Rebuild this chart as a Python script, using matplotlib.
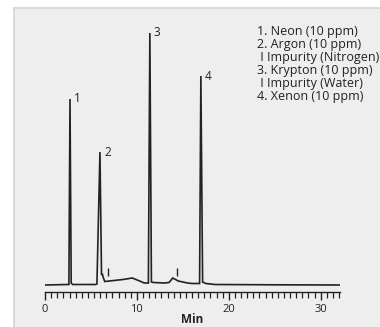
import matplotlib
matplotlib.use("Agg")
import matplotlib.pyplot as plt
from matplotlib.patches import Rectangle
from matplotlib.ticker import MultipleLocator

# chromatogram trace (time in min, signal in arbitrary units)
trace_time = [0.0, 2.5, 2.6, 2.72, 2.85, 3.0, 5.5, 5.65, 5.98, 6.15, 6.25, 6.32, 6.5,
              7.5, 8.5, 9.5, 10.3, 10.8, 11.25, 11.41, 11.58, 11.8, 13.0, 13.5,
              13.9, 14.5, 15.5, 16.0, 16.82, 16.96, 17.15, 17.5, 18.5, 25.0, 32.1]
trace_signal = [0.0, 0.5, 0.5, 186, 2, 0.5, 0.5, 1, 133, 10, 11, 8, 3.5,
                4.5, 5.5, 7, 4, 2, 2, 252, 3, 2.5, 2, 2.5,
                7, 4, 2, 1.5, 1.5, 209, 3, 1.5, 0.5, 0.2, 0.0]

peak_labels = ["1", "2", "3", "4"]
peak_times = [2.72, 5.98, 11.41, 16.96]
peak_heights = [186, 133, 252, 209]

impurity_times = [6.85, 14.35]

xtick_values = [0, 10, 20, 30]

legend_lines = ["1. Neon (10 ppm)", "2. Argon (10 ppm)", " I Impurity (Nitrogen)",
                "3. Krypton (10 ppm)", " I Impurity (Water)", "4. Xenon (10 ppm)"]

W, H = 380, 327
fig = plt.figure(figsize=(W / 100, H / 100), dpi=100, facecolor="white")

# gray panel with white strip top/left
fig.patches.append(Rectangle((14 / W, 0), 1, 1 - 8 / H, transform=fig.transFigure,
                             facecolor="#eeeeee", edgecolor="none", zorder=-5))
fig.add_artist(plt.Line2D([14 / W, 1], [1 - 8 / H, 1 - 8 / H], transform=fig.transFigure,
                          color="#d4d4d4", lw=1.2, zorder=-4))
fig.add_artist(plt.Line2D([14 / W, 14 / W], [0, 1 - 8 / H], transform=fig.transFigure,
                          color="#d4d4d4", lw=1.2, zorder=-4))

left, right = 45, 340
bottom, top = 292, 25
ax = fig.add_axes([left / W, 1 - bottom / H, (right - left) / W, (bottom - top) / H])
ax.set_facecolor("none")
ax.set_zorder(2)

ink = "#222222"
fam = "Open Sans"
ax.plot(trace_time, trace_signal, color=ink, lw=1.2, solid_joinstyle="miter")

for lab, t, h in zip(peak_labels, peak_times, peak_heights):
    ax.text(t + 0.45, h, lab, fontsize=8.5, color=ink, va="center", ha="left",
            family=fam)

ax.vlines(impurity_times, 9, 17, color=ink, lw=1.0)

ax.set_xlim(0, 32.1)
ax.set_ylim(-7, 260)
for s in ["top", "right", "left"]:
    ax.spines[s].set_visible(False)
ax.spines["bottom"].set_color(ink)
ax.spines["bottom"].set_linewidth(1.0)
ax.set_yticks([])
ax.set_xticks(xtick_values)
ax.xaxis.set_minor_locator(MultipleLocator(10 / 15))
ax.tick_params(axis="x", which="major", length=6, width=1.0, color=ink,
               labelsize=8, labelcolor=ink, pad=2.5)
ax.tick_params(axis="x", which="minor", length=4.5, width=0.9, color=ink)
for lbl in ax.get_xticklabels():
    lbl.set_family(fam)

ax.set_xlabel("Min", fontsize=8.5, color=ink, family=fam, fontweight="bold")
ax.xaxis.set_label_coords((192 - left) / (right - left), -21 / (bottom - top))

fig.text(257 / W, 1 - 24.5 / H, "\n".join(legend_lines), fontsize=9, color=ink,
         va="top", ha="left", family=fam, linespacing=1.01, zorder=3)

fig.savefig("out.png", dpi=100, facecolor=fig.get_facecolor())
